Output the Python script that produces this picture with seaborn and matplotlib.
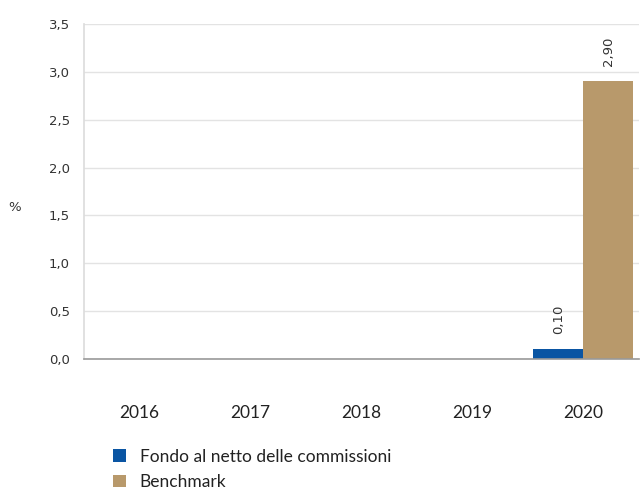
import numpy as np
import pandas as pd
import matplotlib.pyplot as plt
import seaborn as sns
from matplotlib.patches import Patch

# Data
years = ['2016', '2017', '2018', '2019', '2020']
fondo = [np.nan, np.nan, np.nan, np.nan, 0.10]
benchmark = [np.nan, np.nan, np.nan, np.nan, 2.90]
series_names = ['Fondo al netto delle commissioni', 'Benchmark']
colors = ['#0A55A3', '#B8996B']

df = pd.DataFrame({
    'Anno': years * 2,
    'Serie': [series_names[0]] * len(years) + [series_names[1]] * len(years),
    'Valore': fondo + benchmark,
})

sns.set_theme(style='white')
plt.rcParams['font.family'] = ['Lato', 'DejaVu Sans']

fig = plt.figure(figsize=[6.4, 4.91], dpi=100)
ax = fig.add_axes([0.131, 0.269, 0.867, 0.682])

sns.barplot(data=df, x='Anno', y='Valore', hue='Serie', palette=colors,
            width=0.9, ax=ax, legend=False, saturation=1, linewidth=0)

# value labels, rotated
for cont in ax.containers:
    labels = ['' if np.isnan(v) else f'{v:.2f}'.replace('.', ',') for v in cont.datavalues]
    ax.bar_label(cont, labels=labels, rotation=90, padding=11,
                 fontsize=9.5, family=['DejaVu Sans'], color='#333333')

ax.set_ylim(0, 3.5)
ax.set_xlim(-0.5, 4.5)
ax.set_yticks(np.arange(0, 3.51, 0.5))
ax.set_yticklabels([f'{v:.1f}'.replace('.', ',') for v in np.arange(0, 3.51, 0.5)],
                   fontsize=9.5, family=['DejaVu Sans'], color='#333333')
ax.tick_params(axis='y', length=0, pad=10)
ax.tick_params(axis='x', length=0, pad=33, labelsize=12.5, labelcolor='#222222')
ax.yaxis.grid(True, color='#e3e3e3', linewidth=1)
ax.set_axisbelow(True)

for s in ['top', 'right']:
    ax.spines[s].set_visible(False)
ax.spines['left'].set_color('#dddddd')
ax.spines['bottom'].set_color('#999999')
ax.spines['bottom'].set_linewidth(1.2)

ax.set_xlabel('')
ax.set_ylabel('')
fig.text(0.022, 0.578, '%', fontsize=9.5, family=['DejaVu Sans'], color='#333333',
         ha='center', va='center')

handles = [Patch(facecolor=c, edgecolor='none') for c in colors]
fig.legend(handles, series_names, loc='lower left', bbox_to_anchor=(0.152, -0.03),
           frameon=False, fontsize=12.5, handlelength=0.75, handleheight=0.75,
           handletextpad=0.8, labelspacing=0.55, labelcolor='#222222')

plt.savefig('out.png', dpi=100)
